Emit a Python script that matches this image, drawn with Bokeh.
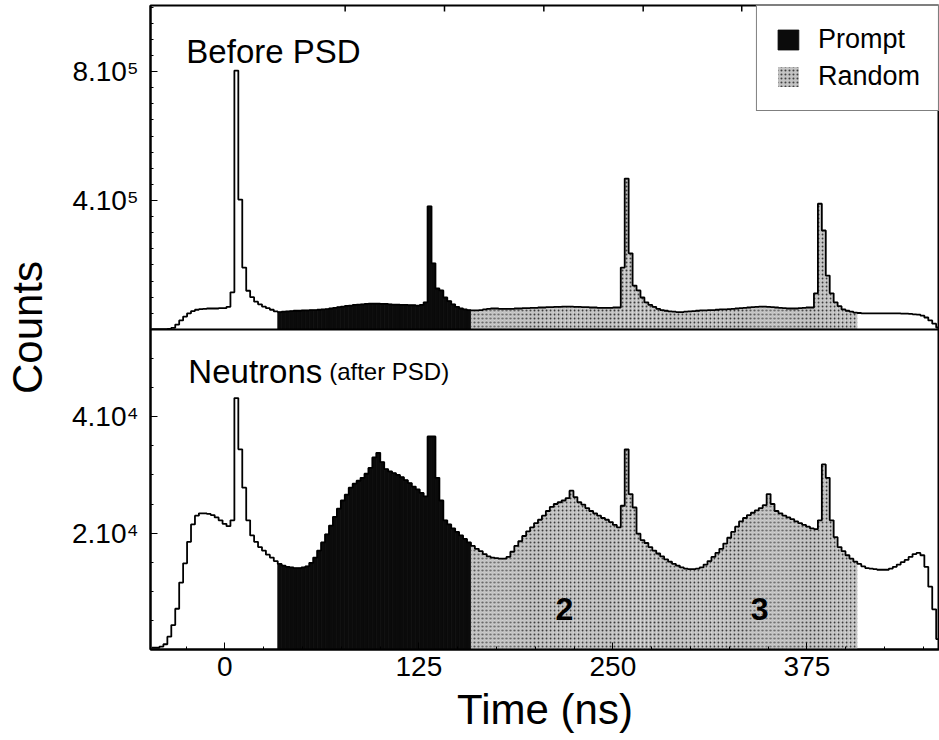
import json
import numpy as np
from bokeh.plotting import figure
from bokeh.models import (Range1d, FixedTicker, CustomJSTickFormatter, Span, Label,
                          Legend, LegendItem, ColumnDataSource)
from bokeh.embed import file_html
from bokeh.resources import INLINE

# ---------------- data ----------------
# time histogram: bin start (ns) and bin width (ns)
BIN_START = -47.2
BIN_WIDTH = 2.54
PROMPT_WINDOW = (34.0, 158.4)     # ns
RANDOM_WINDOW = (158.4, 407.2)    # ns

# counts per bin, in units of 10^3, "Before PSD"
BEFORE_PSD = [
    1, 1, 1, 1, 2, 5, 15, 28, 40, 50,
    57, 61, 63, 64, 65, 65, 65, 66, 66, 70,
    115, 803, 403, 192, 120, 100, 86, 78, 71, 66,
    61, 56, 54, 55, 56, 57, 58, 58, 59, 59,
    60, 60, 61, 62, 63, 65, 67, 69, 71, 73,
    74, 76, 77, 78, 79, 80, 80, 80, 79, 79,
    78, 77, 77, 76, 76, 75, 75, 74, 76, 84,
    382, 205, 127, 121, 99, 88, 78, 70, 65, 62,
    60, 59, 59, 60, 62, 64, 65, 65, 64, 64,
    64, 64, 65, 65, 66, 66, 67, 67, 68, 68,
    69, 69, 70, 70, 71, 71, 71, 70, 70, 69,
    69, 68, 68, 67, 67, 67, 67, 68, 68, 192,
    468, 236, 136, 121, 99, 84, 76, 70, 64, 60,
    58, 56, 55, 54, 54, 55, 56, 57, 58, 59,
    59, 60, 60, 61, 62, 62, 63, 64, 65, 66,
    67, 68, 69, 70, 71, 71, 70, 69, 68, 67,
    66, 65, 65, 65, 66, 67, 68, 68, 112, 390,
    307, 167, 112, 84, 72, 62, 58, 55, 52, 51,
    50, 50, 50, 50, 50, 50, 50, 50, 50, 50,
    49, 49, 48, 47, 46, 43, 37, 28, 18, 6,
]

# counts per bin, in units of 10^3, "Neutrons (after PSD)"
NEUTRONS = [
    0.3, 0.3, 0.5, 0.9, 2.2, 4.2, 7.0, 11.5, 14.8, 18.5,
    21.5, 23.0, 23.4, 23.4, 23.3, 23.1, 22.7, 22.2, 21.6, 21.2,
    22.2, 43.2, 34.4, 27.8, 22.2, 19.6, 18.5, 17.6, 17.0, 16.3,
    15.8, 15.2, 14.7, 14.4, 14.2, 14.1, 14.0, 14.0, 14.1, 14.3,
    14.9, 15.8, 17.0, 18.4, 19.8, 21.3, 22.8, 24.2, 25.6, 26.6,
    27.8, 28.5, 29.0, 29.5, 30.2, 31.2, 33.0, 33.8, 32.2, 31.0,
    30.6, 30.3, 30.0, 29.6, 29.1, 28.6, 28.0, 27.5, 26.9, 26.3,
    36.6, 36.6, 29.5, 25.6, 22.2, 21.5, 20.8, 20.2, 19.6, 19.0,
    18.4, 17.8, 17.3, 16.9, 16.4, 16.0, 15.8, 15.7, 15.6, 15.6,
    15.9, 16.8, 17.8, 18.6, 19.5, 20.3, 21.0, 21.7, 22.3, 23.0,
    23.8, 24.5, 25.0, 25.3, 25.6, 26.0, 27.3, 26.2, 25.3, 24.9,
    24.3, 23.8, 23.4, 23.0, 22.6, 22.3, 21.9, 21.4, 21.0, 24.7,
    34.4, 26.7, 24.4, 19.9, 18.8, 18.3, 17.6, 17.0, 16.5, 16.0,
    15.5, 15.1, 14.7, 14.4, 14.1, 13.9, 13.8, 13.8, 13.9, 14.1,
    14.6, 15.2, 15.9, 16.6, 17.3, 18.2, 19.2, 20.2, 21.1, 22.0,
    22.6, 23.1, 23.5, 23.9, 24.3, 24.8, 26.7, 25.0, 23.8, 23.4,
    23.0, 22.7, 22.4, 22.0, 21.7, 21.4, 21.1, 20.8, 20.7, 22.2,
    31.8, 29.5, 22.2, 19.3, 17.6, 16.9, 16.2, 15.6, 15.1, 14.7,
    14.3, 14.0, 13.9, 13.8, 13.7, 13.7, 13.7, 13.9, 14.2, 14.6,
    15.0, 15.4, 15.9, 16.4, 16.6, 16.2, 14.2, 10.8, 6.9, 1.8,
]
UNIT = 1e3

X_TICKS = [0, 125, 250, 375]
TOP_EDGE_TICKS = [77.5, 141.5, 205.5, 269.5, 333.0]
TOP_MAJOR = [4e5, 8e5]
TOP_LABELS = ["4.10\u2075", "8.10\u2075"]
BOT_MAJOR = [2e4, 4e4]
BOT_LABELS = ["2.10\u2074", "4.10\u2074"]

# ---------------- layout constants ----------------
FONT = "Liberation Sans"
INK = "black"
BOT_MAX = 5.5e4          # counts at the panel divider (bottom panel)
TOP_MAX = 1.005e6        # counts at the top of the upper panel
SPLIT = 0.497            # fraction of frame height used by the lower panel
Y_END = BOT_MAX / SPLIT
TOP_START = -TOP_MAX * SPLIT / (1 - SPLIT)
FRAME_H = 644            # px, frame height

PROMPT_COLOR = "#0b0b0b"
RANDOM_COLOR = "#c4c4c4"

edges = BIN_START + BIN_WIDTH * np.arange(len(NEUTRONS) + 1)
left, right = edges[:-1], edges[1:]
centers = 0.5 * (left + right)
top_counts = np.array(BEFORE_PSD, dtype=float) * UNIT
bot_counts = np.array(NEUTRONS, dtype=float) * UNIT
prompt_mask = (centers >= PROMPT_WINDOW[0]) & (centers < PROMPT_WINDOW[1])
random_mask = (centers >= RANDOM_WINDOW[0]) & (centers < RANDOM_WINDOW[1])

p = figure(width=939, height=740, x_range=Range1d(-47.9, 460.4),
           y_range=Range1d(0, Y_END), output_backend="svg",
           toolbar_location=None, min_border_left=149, min_border_right=0,
           min_border_top=5, min_border_bottom=91)
p.extra_y_ranges = {"top": Range1d(TOP_START, TOP_MAX)}
p.xgrid.visible = False
p.ygrid.visible = False
p.background_fill_color = "white"
p.border_fill_color = "white"
p.outline_line_color = INK
p.outline_line_width = 2

legend_renderers = {}
for counts, yname in [(top_counts, "top"), (bot_counts, "default")]:
    src_p = ColumnDataSource(dict(left=left[prompt_mask], right=right[prompt_mask],
                                  top=counts[prompt_mask]))
    src_r = ColumnDataSource(dict(left=left[random_mask], right=right[random_mask],
                                  top=counts[random_mask]))
    rp = p.quad(left="left", right="right", bottom=0, top="top", source=src_p,
                fill_color=PROMPT_COLOR, line_color=PROMPT_COLOR, line_width=0.8,
                y_range_name=yname)
    rr = p.quad(left="left", right="right", bottom=0, top="top", source=src_r,
                fill_color=RANDOM_COLOR, line_color=None,
                hatch_pattern="dot", hatch_color="#3c3c3c", hatch_scale=4,
                hatch_weight=1.2, y_range_name=yname)
    xs = np.append(left, right[-1])
    ys = np.append(counts, counts[-1])
    p.step(xs, ys, mode="after", line_color=INK, line_width=1.8,
           y_range_name=yname)
    if yname == "top":
        legend_renderers = {"Prompt": rp, "Random": rr}

# divider between the panels
p.add_layout(Span(location=BOT_MAX, dimension="width", line_color=INK,
                  line_width=2))

# short inward ticks along the top edge
tick_len = (TOP_MAX - TOP_START) * 6 / FRAME_H
p.segment(x0=TOP_EDGE_TICKS, x1=TOP_EDGE_TICKS, y0=[TOP_MAX] * len(TOP_EDGE_TICKS),
          y1=[TOP_MAX - tick_len] * len(TOP_EDGE_TICKS), line_color=INK,
          line_width=1.5, y_range_name="top")

# ---------------- axes ----------------
def top_to_main(v):
    return Y_END * (v - TOP_START) / (TOP_MAX - TOP_START)

labels = {}
major = []
for v, s in zip(BOT_MAJOR, BOT_LABELS):
    pos = int(round(v)); major.append(pos); labels[str(pos)] = s
for v, s in zip(TOP_MAJOR, TOP_LABELS):
    pos = int(round(top_to_main(v))); major.append(pos); labels[str(pos)] = s
minor = [int(round(v)) for v in np.arange(5e3, BOT_MAX, 5e3)]
minor += [int(round(top_to_main(v))) for v in np.arange(5e4, TOP_MAX, 5e4)]

yax = p.yaxis[0]
yax.ticker = FixedTicker(ticks=major, minor_ticks=minor)
yax.formatter = CustomJSTickFormatter(
    code="const m = %s; const k = String(Math.round(tick)); return (k in m) ? m[k] : '';"
    % json.dumps(labels))
yax.axis_label = "Counts"
yax.axis_label_standoff = 18
yax.major_label_standoff = 12

xax = p.xaxis[0]
xax.ticker = FixedTicker(ticks=X_TICKS, minor_ticks=list(range(-25, 451, 25)))
xax.axis_label = "Time (ns)"
xax.axis_label_standoff = 7
xax.major_label_standoff = 7

for ax in (yax, xax):
    ax.axis_label_text_font = FONT
    ax.axis_label_text_font_size = "42px"
    ax.axis_label_text_font_style = "normal"
    ax.axis_label_text_color = INK
    ax.major_label_text_font = FONT
    ax.major_label_text_font_size = "28px"
    ax.major_label_text_color = INK
    ax.major_tick_in = 7
    ax.major_tick_out = 0
    ax.minor_tick_in = 3
    ax.minor_tick_out = 0
    ax.axis_line_width = 2
    ax.axis_line_color = INK
    ax.major_tick_line_color = INK
    ax.minor_tick_line_color = INK

# ---------------- texts ----------------
p.add_layout(Label(x=-24.8, y=8.63e5, y_range_name="top", text="Before PSD",
                   text_font=FONT, text_font_size="33px", text_color=INK,
                   text_baseline="alphabetic"))
p.add_layout(Label(x=-23.5, y=4.77e4, text="Neutrons", text_font=FONT,
                   text_font_size="33px", text_color=INK, text_baseline="alphabetic"))
p.add_layout(Label(x=67.2, y=4.77e4, text="(after PSD)", text_font=FONT,
                   text_font_size="24px", text_color=INK, text_baseline="alphabetic"))
for t, s in [(218.7, "2"), (344.6, "3")]:
    p.add_layout(Label(x=t, y=7.0e3, text=s, text_font=FONT, text_font_size="32px",
                       text_font_style="bold", text_color=INK, text_align="center",
                       text_baseline="alphabetic"))

# ---------------- legend ----------------
legend = Legend(items=[LegendItem(label=k, renderers=[r]) for k, r in legend_renderers.items()],
                location="top_right", margin=0, padding=18, spacing=6,
                glyph_width=26, glyph_height=25, label_standoff=17, label_height=25,
                label_text_font=FONT, label_text_font_size="27px", label_text_color=INK,
                border_line_color=INK, border_line_width=1.5,
                background_fill_color="white", background_fill_alpha=1.0)
p.add_layout(legend)

open("out.html", "w").write(file_html(p, INLINE))
